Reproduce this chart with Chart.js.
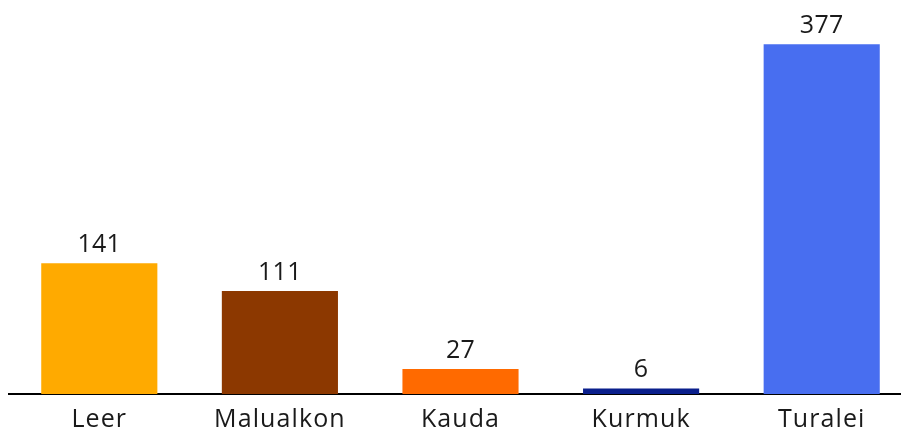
<!DOCTYPE html>
<html>
<head>
<meta charset="utf-8">
<script src="https://cdn.jsdelivr.net/npm/chart.js@4"></script>
<style>
  html, body { margin: 0; padding: 0; background: #fff; overflow: hidden; }
  #wrap { position: relative; width: 912px; height: 430px; }
</style>
</head>
<body>
<div id="wrap"><canvas id="myChart"></canvas></div>
<script>
    // data
    const categories = ['Leer', 'Malualkon', 'Kauda', 'Kurmuk', 'Turalei'];
    const values = [141, 111, 27, 6, 377];
    const barColors = ['#ffaa00', '#8c3800', '#ff6a00', '#0a1f8c', '#486ef0'];

    const FONT = '"Open Sans", sans-serif';

    // a little letter spacing to get closer to the geometric font of the original
    const spacing = {
      id: 'spacing',
      beforeDraw(chart) {
        chart.ctx.letterSpacing = '1.1px';
      }
    };

    // value labels above bars
    const valueLabels = {
      id: 'valueLabels',
      afterDatasetsDraw(chart) {
        const { ctx } = chart;
        const meta = chart.getDatasetMeta(0);
        ctx.save();
        ctx.letterSpacing = '0.3px';
        ctx.font = `25px ${FONT}`;
        ctx.fillStyle = '#1a1a1a';
        ctx.textAlign = 'center';
        ctx.textBaseline = 'alphabetic';
        meta.data.forEach((bar, i) => {
          ctx.fillText(values[i], bar.x, bar.y - 11);
        });
        ctx.restore();
      }
    };

    const config = {
      type: 'bar',
      data: {
        labels: categories,
        datasets: [{
          data: values,
          backgroundColor: barColors,
          borderWidth: 0,
          barPercentage: 0.643,
          categoryPercentage: 1
        }]
      },
      options: {
        responsive: true,
        maintainAspectRatio: false,
        animation: false,
        layout: { padding: { left: 9, right: 0, top: 23, bottom: 0 } },
        plugins: {
          legend: { display: false },
          tooltip: { enabled: false }
        },
        scales: {
          x: {
            grid: { display: false, drawTicks: false },
            border: { display: true, color: '#000', width: 2 },
            ticks: {
              color: '#1a1a1a',
              padding: 20,
              font: { family: FONT, size: 25, lineHeight: 0.5 }
            },
            afterFit(scale) {
              scale.height = 36;
            }
          },
          y: {
            display: false,
            min: 0,
            max: 400
          }
        }
      },
      plugins: [spacing, valueLabels]
    };

    const myChart = new Chart(document.getElementById('myChart'), config);
</script>
</body>
</html>
